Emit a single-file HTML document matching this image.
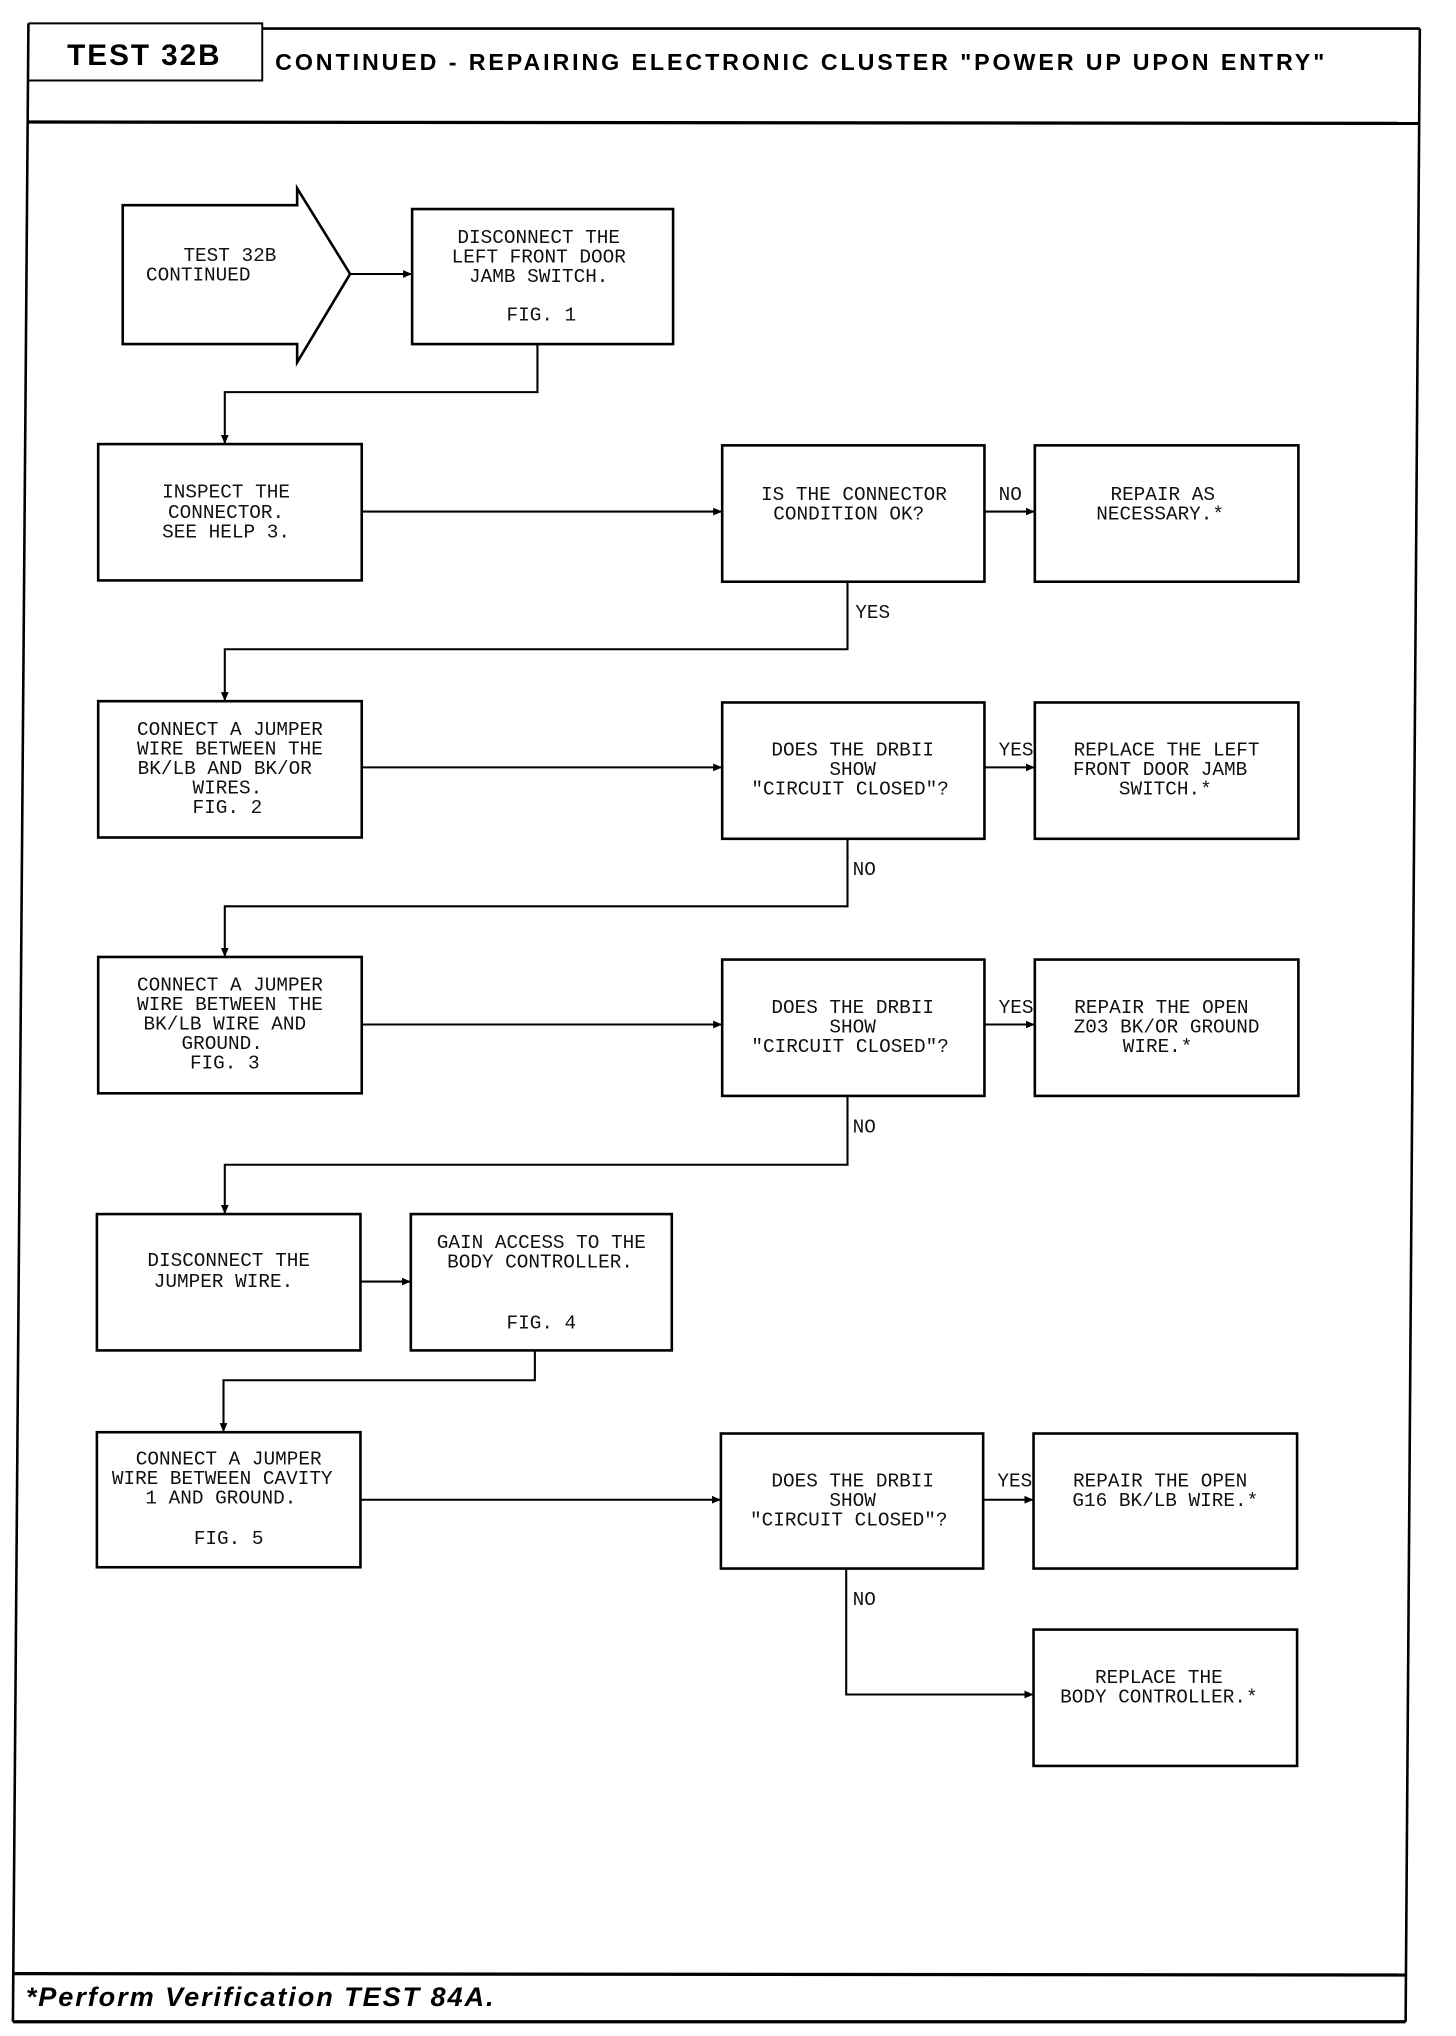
<!DOCTYPE html>
<html><head><meta charset="utf-8"><style>
html,body{margin:0;padding:0;background:#fff;}
svg{display:block;}
.t{font-family:"Liberation Mono","DejaVu Sans Mono",monospace;font-size:15px;fill:#111;text-anchor:middle;}
.l{font-family:"Liberation Mono","DejaVu Sans Mono",monospace;font-size:15px;fill:#111;}
.b{fill:#fff;stroke:#000;stroke-width:2;}
.c{fill:none;stroke:#000;stroke-width:1.6;}
</style></head><body>
<svg width="1456" height="2036" viewBox="0 0 1127 1568" preserveAspectRatio="none" xmlns="http://www.w3.org/2000/svg">
<defs><marker id="a" markerWidth="8" markerHeight="8" refX="7" refY="4" orient="auto" markerUnits="userSpaceOnUse"><path d="M0,1 L7,4 L0,7 Z" fill="#000"/></marker></defs>
<!-- frame -->
<polyline points="22,18 203,18 203,62 22,62" fill="none" stroke="#000" stroke-width="1.5"/>
<polyline points="203,22 1099,22" fill="none" stroke="#000" stroke-width="2"/>
<line x1="22" y1="18" x2="10" y2="1557" stroke="#000" stroke-width="2"/>
<line x1="1099" y1="22" x2="1088" y2="1557" stroke="#000" stroke-width="2"/>
<line x1="22" y1="94" x2="1099" y2="95" stroke="#000" stroke-width="2.5"/>
<line x1="10" y1="1520" x2="1088" y2="1521" stroke="#000" stroke-width="2.5"/>
<line x1="10" y1="1557" x2="1088" y2="1557" stroke="#000" stroke-width="2.5"/>
<text x="52" y="50" style="font-family:'Liberation Sans',sans-serif;font-weight:bold;font-size:23px" textLength="118">TEST 32B</text>
<text x="213" y="54" style="font-family:'Liberation Sans',sans-serif;font-weight:bold;font-size:18px" textLength="812">CONTINUED - REPAIRING ELECTRONIC CLUSTER "POWER UP UPON ENTRY"</text>
<text x="20" y="1545" style="font-family:'Liberation Sans',sans-serif;font-weight:bold;font-style:italic;font-size:21px" textLength="362">*Perform Verification TEST 84A.</text>

<!-- start arrow -->
<polygon points="95,158 230,158 230,145 271,211 230,279 230,265 95,265" class="b"/>
<text class="l" x="142" y="201">TEST 32B</text>
<text class="l" x="113" y="216">CONTINUED</text>
<line x1="271" y1="211" x2="319" y2="211" class="c" marker-end="url(#a)"/>

<rect x="319" y="161" width="202" height="104" class="b"/>
<text class="t" x="417" y="187">DISCONNECT THE</text>
<text class="t" x="417" y="202">LEFT FRONT DOOR</text>
<text class="t" x="417" y="217">JAMB SWITCH.</text>
<text class="t" x="419" y="247">FIG. 1</text>
<polyline points="416,265 416,302 174,302 174,342" class="c" marker-end="url(#a)"/>

<rect x="76" y="342" width="204" height="105" class="b"/>
<text class="t" x="175" y="383">INSPECT THE</text>
<text class="t" x="175" y="399">CONNECTOR.</text>
<text class="t" x="175" y="414">SEE HELP 3.</text>
<line x1="280" y1="394" x2="559" y2="394" class="c" marker-end="url(#a)"/>
<rect x="559" y="343" width="203" height="105" class="b"/>
<text class="t" x="661" y="385">IS THE CONNECTOR</text>
<text class="t" x="657" y="400">CONDITION OK?</text>
<text class="l" x="773" y="385">NO</text>
<line x1="762" y1="394" x2="801" y2="394" class="c" marker-end="url(#a)"/>
<rect x="801" y="343" width="204" height="105" class="b"/>
<text class="t" x="900" y="385">REPAIR AS</text>
<text class="t" x="898" y="400">NECESSARY.*</text>
<polyline points="656,448 656,500 174,500 174,540" class="c" marker-end="url(#a)"/>
<text class="l" x="662" y="476">YES</text>

<rect x="76" y="540" width="204" height="105" class="b"/>
<text class="t" x="178" y="566">CONNECT A JUMPER</text>
<text class="t" x="178" y="581">WIRE BETWEEN THE</text>
<text class="t" x="174" y="596">BK/LB AND BK/OR</text>
<text class="t" x="176" y="611">WIRES.</text>
<text class="t" x="176" y="626">FIG. 2</text>
<line x1="280" y1="591" x2="559" y2="591" class="c" marker-end="url(#a)"/>
<rect x="559" y="541" width="203" height="105" class="b"/>
<text class="t" x="660" y="582">DOES THE DRBII</text>
<text class="t" x="660" y="597">SHOW</text>
<text class="t" x="658" y="612">"CIRCUIT CLOSED"?</text>
<text class="l" x="773" y="582">YES</text>
<line x1="762" y1="591" x2="801" y2="591" class="c" marker-end="url(#a)"/>
<rect x="801" y="541" width="204" height="105" class="b"/>
<text class="t" x="903" y="582">REPLACE THE LEFT</text>
<text class="t" x="898" y="597">FRONT DOOR JAMB</text>
<text class="t" x="902" y="612">SWITCH.*</text>
<polyline points="656,646 656,698 174,698 174,737" class="c" marker-end="url(#a)"/>
<text class="l" x="660" y="674">NO</text>

<rect x="76" y="737" width="204" height="105" class="b"/>
<text class="t" x="178" y="763">CONNECT A JUMPER</text>
<text class="t" x="178" y="778">WIRE BETWEEN THE</text>
<text class="t" x="174" y="793">BK/LB WIRE AND</text>
<text class="t" x="172" y="808">GROUND.</text>
<text class="t" x="174" y="823">FIG. 3</text>
<line x1="280" y1="789" x2="559" y2="789" class="c" marker-end="url(#a)"/>
<rect x="559" y="739" width="203" height="105" class="b"/>
<text class="t" x="660" y="780">DOES THE DRBII</text>
<text class="t" x="660" y="795">SHOW</text>
<text class="t" x="658" y="810">"CIRCUIT CLOSED"?</text>
<text class="l" x="773" y="780">YES</text>
<line x1="762" y1="789" x2="801" y2="789" class="c" marker-end="url(#a)"/>
<rect x="801" y="739" width="204" height="105" class="b"/>
<text class="t" x="899" y="780">REPAIR THE OPEN</text>
<text class="t" x="903" y="795">Z03 BK/OR GROUND</text>
<text class="t" x="896" y="810">WIRE.*</text>
<polyline points="656,844 656,897 174,897 174,935" class="c" marker-end="url(#a)"/>
<text class="l" x="660" y="872">NO</text>

<rect x="75" y="935" width="204" height="105" class="b"/>
<text class="t" x="177" y="975">DISCONNECT THE</text>
<text class="t" x="173" y="991">JUMPER WIRE.</text>
<line x1="279" y1="987" x2="318" y2="987" class="c" marker-end="url(#a)"/>
<rect x="318" y="935" width="202" height="105" class="b"/>
<text class="t" x="419" y="961">GAIN ACCESS TO THE</text>
<text class="t" x="418" y="976">BODY CONTROLLER.</text>
<text class="t" x="419" y="1023">FIG. 4</text>
<polyline points="414,1040 414,1063 173,1063 173,1103" class="c" marker-end="url(#a)"/>

<rect x="75" y="1103" width="204" height="104" class="b"/>
<text class="t" x="177" y="1128">CONNECT A JUMPER</text>
<text class="t" x="172" y="1143">WIRE BETWEEN CAVITY</text>
<text class="t" x="171" y="1158">1 AND GROUND.</text>
<text class="t" x="177" y="1189">FIG. 5</text>
<line x1="279" y1="1155" x2="558" y2="1155" class="c" marker-end="url(#a)"/>
<rect x="558" y="1104" width="203" height="104" class="b"/>
<text class="t" x="660" y="1145">DOES THE DRBII</text>
<text class="t" x="660" y="1160">SHOW</text>
<text class="t" x="657" y="1175">"CIRCUIT CLOSED"?</text>
<text class="l" x="772" y="1145">YES</text>
<line x1="761" y1="1155" x2="800" y2="1155" class="c" marker-end="url(#a)"/>
<rect x="800" y="1104" width="204" height="104" class="b"/>
<text class="t" x="898" y="1145">REPAIR THE OPEN</text>
<text class="t" x="902" y="1160">G16 BK/LB WIRE.*</text>
<polyline points="655,1208 655,1305 800,1305" class="c" marker-end="url(#a)"/>
<text class="l" x="660" y="1236">NO</text>
<rect x="800" y="1255" width="204" height="105" class="b"/>
<text class="t" x="897" y="1296">REPLACE THE</text>
<text class="t" x="897" y="1311">BODY CONTROLLER.*</text>
</svg>
</body></html>
